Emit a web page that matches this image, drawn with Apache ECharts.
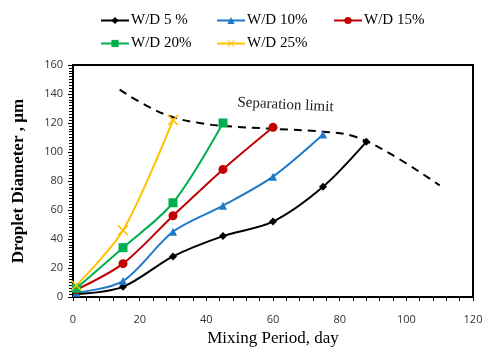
<!DOCTYPE html>
<html>
<head>
<meta charset="utf-8">
<script src="https://cdn.jsdelivr.net/npm/echarts@6/dist/echarts.min.js"></script>
<style>
  html, body { margin: 0; padding: 0; background: #fff; }
  #main { width: 482px; height: 349px; }
</style>
</head>
<body>
<div id="main"></div>
<script>
// mixing period (days) for each measurement
var days = [1, 15, 30, 45, 60, 75, 88];

// droplet diameter (um) per water/diesel ratio
var wd5 = [2, 7, 28, 42, 52, 76, 107];
var wd10 = [3, 11, 45, 63, 83, 112];
var wd15 = [5, 23, 56, 88, 117];
var wd20 = [6, 34, 65, 120];
var wd25 = [8, 46, 122];

// separation limit (dashed curve)
var limitX = [14, 22, 30, 38, 45, 60, 75, 84, 95, 110];
var limitY = [143, 132, 124, 120, 118, 116, 114, 111, 99, 77];

var names = ['W/D 5 %', 'W/D 10%', 'W/D 15%', 'W/D 20%', 'W/D 25%'];
var colors = ['#000000', '#1f78c8', '#c00000', '#00b050', '#ffc000'];
var symbols = [
  'diamond',
  'triangle',
  'circle',
  'rect',
  'path://M1,0 L5,4 L9,0 L10,1 L6,5 L10,9 L9,10 L5,6 L1,10 L0,9 L4,5 L0,1 Z'
];
var symbolSizes = [8, 8, 9, 9, 11];
var values = [wd5, wd10, wd15, wd20, wd25];
// legend slots (left, top)
var legendPos = [[100, 13], [216, 13], [333, 13], [100, 36], [216, 36]];

function pairs(xs, ys) {
  var out = [];
  for (var i = 0; i < ys.length; i++) {
    out.push([xs[i], ys[i]]);
  }
  return out;
}

var series = [];
var legends = [];
for (var k = 0; k < names.length; k++) {
  series.push({
    name: names[k],
    type: 'line',
    smooth: 0.3,
    data: pairs(days, values[k]),
    symbol: symbols[k],
    symbolSize: symbolSizes[k],
    itemStyle: { color: colors[k] },
    lineStyle: { color: colors[k], width: 2 },
    z: 3
  });
  legends.push({
    data: [names[k]],
    left: legendPos[k][0],
    top: legendPos[k][1],
    padding: 0,
    itemWidth: 28,
    itemHeight: 9,
    itemGap: 0,
    textStyle: { fontFamily: 'Liberation Serif', fontSize: 15, color: '#000', padding: [0, 0, 0, -3] }
  });
}
series.push({
  name: 'Separation limit',
  type: 'line',
  smooth: 0.4,
  data: pairs(limitX, limitY),
  symbol: 'none',
  lineStyle: { color: '#000', width: 2, type: [8, 6] },
  z: 2
});

var myChart = echarts.init(document.getElementById('main'));
myChart.setOption({
  animation: false,
  color: colors,
  legend: legends,
  grid: { left: 73, right: 9, top: 65, bottom: 52, containLabel: false, outerBoundsMode: 'none' },
  xAxis: {
    type: 'value',
    min: 0, max: 120, interval: 20,
    name: 'Mixing Period, day',
    nameLocation: 'middle',
    nameGap: 33,
    nameTextStyle: { fontFamily: 'Liberation Serif', fontSize: 17, color: '#000' },
    axisLine: { lineStyle: { color: '#000', width: 2 } },
    axisTick: { show: true, inside: false, length: 4, lineStyle: { color: '#000' } },
    minorTick: { show: true, splitNumber: 5, length: 4, lineStyle: { color: '#000' } },
    axisLabel: { fontFamily: 'Open Sans', fontSize: 11, color: '#333', margin: 17 },
    splitLine: { show: false }
  },
  yAxis: {
    type: 'value',
    min: 0, max: 160, interval: 20,
    name: 'Droplet Diameter , µm',
    nameLocation: 'middle',
    nameGap: 46,
    nameTextStyle: { fontFamily: 'Liberation Serif', fontSize: 17, fontWeight: 'bold', color: '#000' },
    axisLine: { lineStyle: { color: '#000', width: 2 } },
    axisTick: { show: true, length: 5, lineStyle: { color: '#000' } },
    minorTick: { show: true, splitNumber: 10, length: 4, lineStyle: { color: '#000' } },
    axisLabel: { fontFamily: 'Open Sans', fontSize: 11, color: '#333', margin: 10 },
    splitLine: { show: false }
  },
  graphic: [
    {
      type: 'rect',
      shape: { x: 73, y: 65, width: 400, height: 232 },
      style: { fill: 'none', stroke: '#000', lineWidth: 2 },
      z: 0, silent: true
    },
    {
      type: 'text',
      left: 237, top: 95,
      rotation: -0.05,
      style: { text: 'Separation limit', fontFamily: 'Liberation Serif', fontSize: 15, fill: '#222' },
      z: 10
    }
  ],
  series: series
});
</script>
</body>
</html>
